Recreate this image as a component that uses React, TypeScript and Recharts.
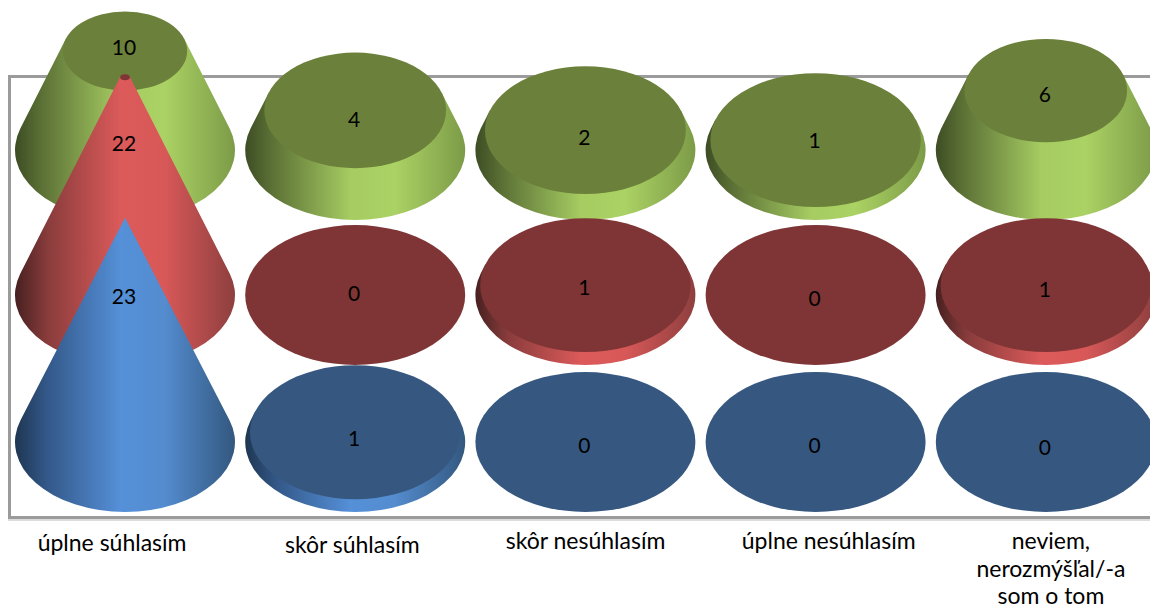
import { BarChart, Bar, XAxis, YAxis } from "recharts";

const CATEGORIES = [
  "úplne súhlasím",
  "skôr súhlasím",
  "skôr nesúhlasím",
  "úplne nesúhlasím",
  "neviem,|nerozmýšľal/-a|som o tom",
];
const GREEN_VALUES = [10, 4, 2, 1, 6];
const RED_VALUES = [22, 0, 1, 0, 1];
const BLUE_VALUES = [23, 1, 0, 0, 0];

const rows = CATEGORIES.map((name, i) => ({
  name,
  green: GREEN_VALUES[i],
  red: RED_VALUES[i],
  blue: BLUE_VALUES[i],
}));

// every cone narrows to a point at this value
const APEX_VALUE = 23;
// the 3D floor rows: each series has its own y axis with the zero line moved up
const BLUE_DOMAIN = [-8, 45.33];
const RED_DOMAIN = [-22.73, 29.8];
const GREEN_DOMAIN = [-37.37, 15.15];

const FONT = "Lato, sans-serif";
const TICK_NUDGE_X = [-13, -3, 0, 13, 5];
const TICK_NUDGE_Y = [2, 4, 0, 0, 0];
// value labels sit a little off centre in the original
const GREEN_LABEL_NUDGE = [-6, 6, 4, -3, 1];
const RED_LABEL_NUDGE = [-4, -4, -1, 1, 1];
const BLUE_LABEL_NUDGE = [6, 3, 1, 1, 3];

function Cone(props: any) {
  const { x, y, width, height, value, index, fillId, capColor, nudge } = props;
  const v = Number(value) || 0;
  const cx = x + width / 2;
  const baseY = y + height;
  const R = width / 2;
  const b = R * 0.636;
  const r = R * (1 - v / APEX_VALUE);
  const capRy = r * 0.636;

  let side = null;
  if (v > 0) {
    const H = (height / v) * APEX_VALUE;
    const apexY = baseY - H;
    // silhouette lines touch the base ellipse a bit above its centre
    const tanY = baseY - (b * b) / H;
    const tanX = R * Math.sqrt(1 - (b * b) / (H * H));
    const k = r / R;
    const topY = apexY + k * (tanY - apexY);
    const d = `M${cx - tanX},${tanY} L${cx - k * tanX},${topY} L${cx + k * tanX},${topY} L${cx + tanX},${tanY} A${R},${b} 0 1 1 ${cx - tanX},${tanY} Z`;
    side = <path d={d} fill={`url(#${fillId})`} />;
  }
  const labelY = (v > 20 ? y + height * 0.32 : y + 2) + nudge[index];

  return (
    <g>
      {side}
      {r > 0 && <ellipse cx={cx} cy={y} rx={r} ry={capRy} fill={capColor} />}
      <text x={cx - 1} y={labelY} textAnchor="middle" dominantBaseline="central" fontFamily={FONT} fontSize={21} fill="#000">
        {v}
      </text>
    </g>
  );
}

function CategoryTick(props: any) {
  const { x, y, payload, index } = props;
  const lines = String(payload.value).split("|");
  const tx = x + TICK_NUDGE_X[index];
  const ty = y + TICK_NUDGE_Y[index] + 21;
  return (
    <text x={tx} y={ty} textAnchor="middle" fontFamily={FONT} fontSize={23} fill="#000">
      {lines.map((line, i) => (
        <tspan key={line} x={tx} y={ty + i * 27.5}>
          {line}
        </tspan>
      ))}
    </text>
  );
}

export default function App() {
  return (
    <div style={{ position: "absolute", left: 0, top: 0, width: 1150, height: 608, overflow: "hidden", background: "#fff" }}>
      <div
        style={{
          position: "absolute",
          left: 8,
          top: 75,
          width: 1200,
          height: 438,
          border: "3px solid #9b9b9b",
          boxShadow: "0 2px 0 #dcdcdc",
          boxSizing: "content-box",
        }}
      />
      <BarChart
        width={1161}
        height={608}
        data={rows}
        margin={{ top: 0, right: 0, bottom: 0, left: 10 }}
        barSize={220}
        barGap={-220}
        style={{ position: "absolute", left: 0, top: 0 }}
      >
        <defs>
          <linearGradient id="coneGreen" x1="0" y1="0" x2="1" y2="0">
            <stop offset="0" stopColor="#3d4d24" />
            <stop offset="0.12" stopColor="#5b7035" />
            <stop offset="0.48" stopColor="#a6cc62" />
            <stop offset="0.68" stopColor="#abd264" />
            <stop offset="1" stopColor="#7d9b48" />
          </linearGradient>
          <linearGradient id="coneRed" x1="0" y1="0" x2="1" y2="0">
            <stop offset="0" stopColor="#472020" />
            <stop offset="0.15" stopColor="#8a3c3c" />
            <stop offset="0.48" stopColor="#dc5a5a" />
            <stop offset="0.68" stopColor="#d85858" />
            <stop offset="1" stopColor="#8e3f3f" />
          </linearGradient>
          <linearGradient id="coneBlue" x1="0" y1="0" x2="1" y2="0">
            <stop offset="0" stopColor="#1e3652" />
            <stop offset="0.15" stopColor="#34598a" />
            <stop offset="0.48" stopColor="#5590d8" />
            <stop offset="0.68" stopColor="#548ccf" />
            <stop offset="1" stopColor="#33587f" />
          </linearGradient>
        </defs>
        <XAxis dataKey="name" height={88} axisLine={false} tickLine={false} interval={0} tick={<CategoryTick />} />
        <YAxis yAxisId="green" hide domain={GREEN_DOMAIN} allowDataOverflow />
        <YAxis yAxisId="red" hide domain={RED_DOMAIN} allowDataOverflow />
        <YAxis yAxisId="blue" hide domain={BLUE_DOMAIN} allowDataOverflow />
        <Bar
          yAxisId="green"
          dataKey="green"
          isAnimationActive={false}
          shape={(p: any) => <Cone {...p} fillId="coneGreen" capColor="#6b803a" nudge={GREEN_LABEL_NUDGE} />}
        />
        <Bar
          yAxisId="red"
          dataKey="red"
          isAnimationActive={false}
          shape={(p: any) => <Cone {...p} fillId="coneRed" capColor="#7f3535" nudge={RED_LABEL_NUDGE} />}
        />
        <Bar
          yAxisId="blue"
          dataKey="blue"
          isAnimationActive={false}
          shape={(p: any) => <Cone {...p} fillId="coneBlue" capColor="#365880" nudge={BLUE_LABEL_NUDGE} />}
        />
      </BarChart>
    </div>
  );
}
